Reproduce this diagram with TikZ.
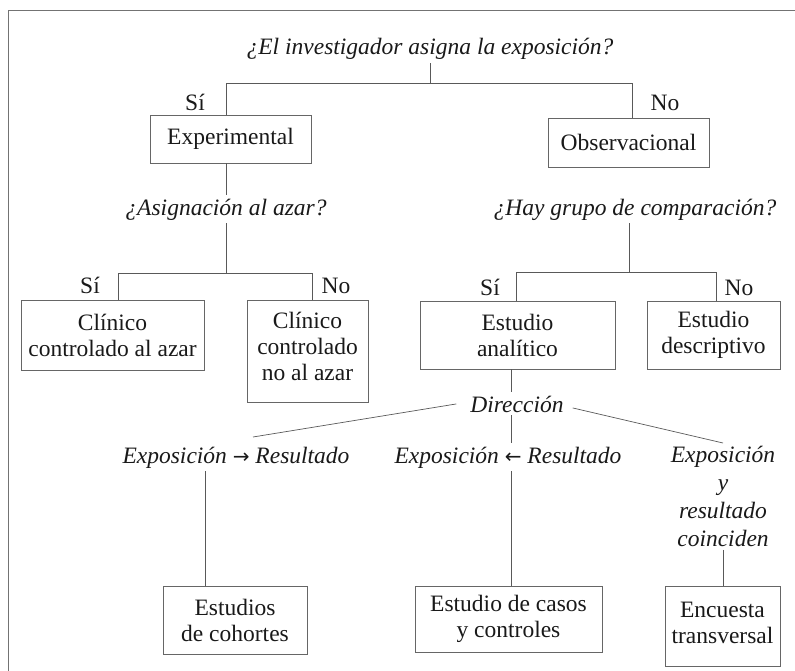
\documentclass[tikz,border=0pt]{standalone}
\usepackage{fontspec}
\setmainfont{Liberation Serif}
\newfontfamily\arrowfont{DejaVu Sans}
\begin{document}
\begin{tikzpicture}[x=1pt,y=-1pt,
  ln/.style={draw=black!65, line width=0.7pt},
  frame/.style={draw=black!55, line width=0.9pt},
  box/.style={draw=black!60, line width=0.8pt, align=center, inner sep=0pt,
    text=black!90, font=\fontsize{23.5}{26}\selectfont},
  q/.style={font=\fontsize{23.5}{26}\selectfont\itshape, text=black!90, inner sep=3pt},
  lab/.style={font=\fontsize{23.5}{26}\selectfont, text=black!90, inner sep=0pt, anchor=base}
]
\useasboundingbox (0,0) rectangle (795,671);
\draw[frame] (8,671) -- (8,10) -- (795,10);

% level 1
\node[q, anchor=base] (q1) at (430,55) {¿El investigador asigna la exposición?};
\coordinate (t1) at (226,83);
\coordinate (t2) at (632,83);
\node[box, minimum width=161, minimum height=48] (exp) at (230.5,139) {Experimental};
\node[box, minimum width=161, minimum height=49] (obs) at (628.5,142.5) {Observacional};
\node[lab] (si1) at (195,111) {Sí};
\node[lab] (no1) at (665,111) {No};
\draw[ln] (q1.south) -- (q1.south |- t1);
\draw[ln] (exp.north -| t1) -- (t1) -- (t2) -- (obs.north -| t2);

% level 2 left
\node[q, anchor=base] (q2) at (226,215) {¿Asignación al azar?};
\draw[ln] (exp.south -| t1) -- (q2.north -| t1);
\coordinate (t3) at (226,273);
\coordinate (t4) at (118,273);
\coordinate (t5) at (312,273);
\node[box, minimum width=183, minimum height=70] (cl1) at (112.5,335) {Clínico\\controlado al azar};
\node[box, minimum width=121, minimum height=102] (cl2) at (307.5,351) {Clínico\\controlado\\no al azar\rule[-10pt]{0pt}{0pt}};
\node[lab] (si2) at (90,293) {Sí};
\node[lab] (no2) at (336,293) {No};
\draw[ln] (q2.south -| t3) -- (t3);
\draw[ln] (cl1.north -| t4) -- (t4) -- (t5) -- (cl2.north -| t5);

% level 2 right
\node[q, anchor=base] (q3) at (635,215) {¿Hay grupo de comparación?};
\coordinate (t6) at (629,272);
\coordinate (t7) at (516,272);
\coordinate (t8) at (716,272);
\node[box, minimum width=195, minimum height=68] (ana) at (517.5,335) {Estudio\\analítico};
\node[box, minimum width=133, minimum height=68] (des) at (713.5,335) {Estudio\\descriptivo};
\node[lab] (si3) at (490,295) {Sí};
\node[lab] (no3) at (739,295) {No};
\draw[ln] (q3.south -| t6) -- (t6);
\draw[ln] (ana.north -| t7) -- (t7) -- (t8) -- (des.north -| t8);

% direction
\coordinate (xd) at (511,0);
\coordinate (xc) at (205,0);
\coordinate (xe) at (723,0);
\node[q, anchor=base] (dir) at (517,412) {Dirección};
\draw[ln] (ana.south -| xd) -- (dir.north -| xd);
\node[q, anchor=base] (exr) at (236,463) {Exposición {\upshape\arrowfont\fontsize{20}{20}\selectfont →} Resultado};
\node[q, anchor=base] (exl) at (508,463) {Exposición {\upshape\arrowfont\fontsize{20}{20}\selectfont ←} Resultado};
\node[q, anchor=north, align=center, inner sep=3pt,
  font=\fontsize{23.5}{28}\selectfont\itshape] (exy) at (723,443) {Exposición\\y\\resultado\\coinciden};
\coordinate (dL) at (253,437);
\coordinate (dR) at (723,443);
\draw[ln] ([xshift=-11pt]dir.west) -- (dL);
\draw[ln] ([xshift=6pt,yshift=-4pt]dir.east) -- (dR);
\draw[ln] (dir.south -| xd) -- (exl.north -| xd);

% bottom boxes
\node[box, minimum width=144, minimum height=68] (coh) at (235,620) {Estudios\\de cohortes};
\node[box, minimum width=187, minimum height=66] (cas) at (508.5,619) {Estudio de casos\\y controles};
\node[box, minimum width=115, minimum height=80] (enc) at (722.5,626) {Encuesta\\transversal\rule[-7pt]{0pt}{0pt}};
\draw[ln] (exr.south -| xc) -- (coh.north -| xc);
\draw[ln] (exl.south -| xd) -- (cas.north -| xd);
\draw[ln] (exy.south -| xe) -- (enc.north -| xe);
\end{tikzpicture}
\end{document}
